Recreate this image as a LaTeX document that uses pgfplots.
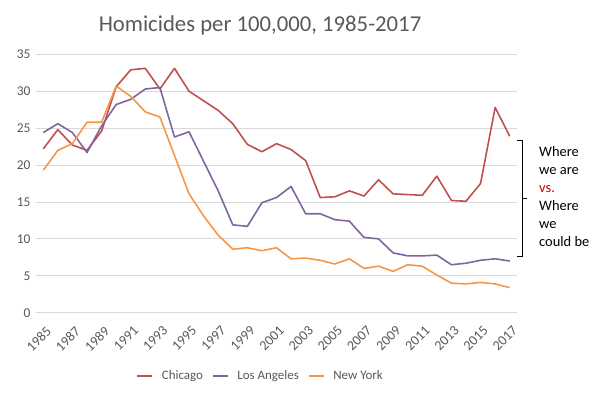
\documentclass[border=0pt]{standalone}
\usepackage{pgfplots}
\pgfplotsset{compat=1.18}
\usepackage{fontspec}
\setmainfont{Carlito}
\definecolor{chi}{HTML}{C0504D}
\definecolor{la}{HTML}{8064A2}
\definecolor{ny}{HTML}{F79646}
\definecolor{txt}{HTML}{595959}
\begin{document}
\begin{tikzpicture}[x=1bp,y=1bp]
\path[use as bounding box] (0,0) rectangle (600,396);
\begin{axis}[
  at={(36bp,83.3bp)}, anchor=south west,
  scale only axis, width=481bp, height=258.4bp,
  xmin=1984.5, xmax=2017.5, ymin=0, ymax=35,
  ytick={0,5,...,35}, xtick={1985,1987,...,2017},
  axis line style={draw=none},
  major tick style={draw=none},
  ymajorgrids, grid style={draw=black!15, line width=0.8pt},
  /pgf/number format/1000 sep={},
  /pgf/number format/assume math mode=true,
  ticklabel style={font=\fontsize{13.5}{15}\selectfont, text=txt},
  xticklabel style={xshift=2bp, yshift=-11bp, rotate=45, anchor=north east, inner sep=1pt, font=\fontsize{14}{15}\selectfont},
  yticklabel style={xshift=-2pt},
  legend columns=3,
  legend style={draw=none, at={(0.466,-0.245)}, anchor=center, font=\fontsize{13}{15}\selectfont, text=txt, column sep=8pt, nodes={inner xsep=1pt}},
  legend image code/.code={\draw[#1, line width=1.5pt] (0bp,0bp) -- (15bp,0bp);},
  every axis plot/.append style={line width=1.6pt, line join=round},
]
\addplot[chi] coordinates {
(1985,22.2)(1986,24.8)(1987,22.7)(1988,22.0)(1989,24.6)(1990,30.6)(1991,32.9)(1992,33.1)(1993,30.3)(1994,33.1)
(1995,30.0)(1996,28.7)(1997,27.4)(1998,25.6)(1999,22.8)(2000,21.8)(2001,22.9)(2002,22.1)(2003,20.6)(2004,15.6)
(2005,15.7)(2006,16.5)(2007,15.8)(2008,18.0)(2009,16.1)(2010,16.0)(2011,15.9)(2012,18.5)(2013,15.2)(2014,15.1)
(2015,17.5)(2016,27.8)(2017,23.9)};
\addlegendentry{Chicago}
\addplot[la] coordinates {
(1985,24.4)(1986,25.6)(1987,24.4)(1988,21.7)(1989,25.3)(1990,28.2)(1991,28.9)(1992,30.3)(1993,30.5)(1994,23.8)
(1995,24.5)(1996,20.5)(1997,16.5)(1998,11.9)(1999,11.7)(2000,14.9)(2001,15.6)(2002,17.1)(2003,13.4)(2004,13.4)
(2005,12.6)(2006,12.4)(2007,10.2)(2008,10.0)(2009,8.1)(2010,7.7)(2011,7.7)(2012,7.8)(2013,6.5)(2014,6.7)
(2015,7.1)(2016,7.3)(2017,7.0)};
\addlegendentry{Los Angeles}
\addplot[ny] coordinates {
(1985,19.3)(1986,22.0)(1987,22.9)(1988,25.8)(1989,25.8)(1990,30.7)(1991,29.3)(1992,27.2)(1993,26.5)(1994,21.3)
(1995,16.1)(1996,13.1)(1997,10.5)(1998,8.6)(1999,8.8)(2000,8.4)(2001,8.8)(2002,7.3)(2003,7.4)(2004,7.1)
(2005,6.6)(2006,7.3)(2007,6.0)(2008,6.3)(2009,5.6)(2010,6.5)(2011,6.3)(2012,5.1)(2013,4.0)(2014,3.9)
(2015,4.1)(2016,3.9)(2017,3.4)};
\addlegendentry{New York}
\end{axis}
\node[text=txt, font=\fontsize{22.8}{26}\selectfont] at (260,371) {Homicides per 100,000, 1985-2017};
\draw[black, line width=0.9pt] (517,256) -- (522.5,256) -- (522.5,139.5) -- (517,139.5);
\draw[black, line width=0.9pt] (522.5,198) -- (527,198);
\node[anchor=north west, align=left, inner sep=0pt, font=\fontsize{14.5}{18.2}\selectfont] at (539,250)
 {Where\\we are\\\textcolor{red!80!black}{vs.}\\Where\\we\\could be};
\end{tikzpicture}
\end{document}
